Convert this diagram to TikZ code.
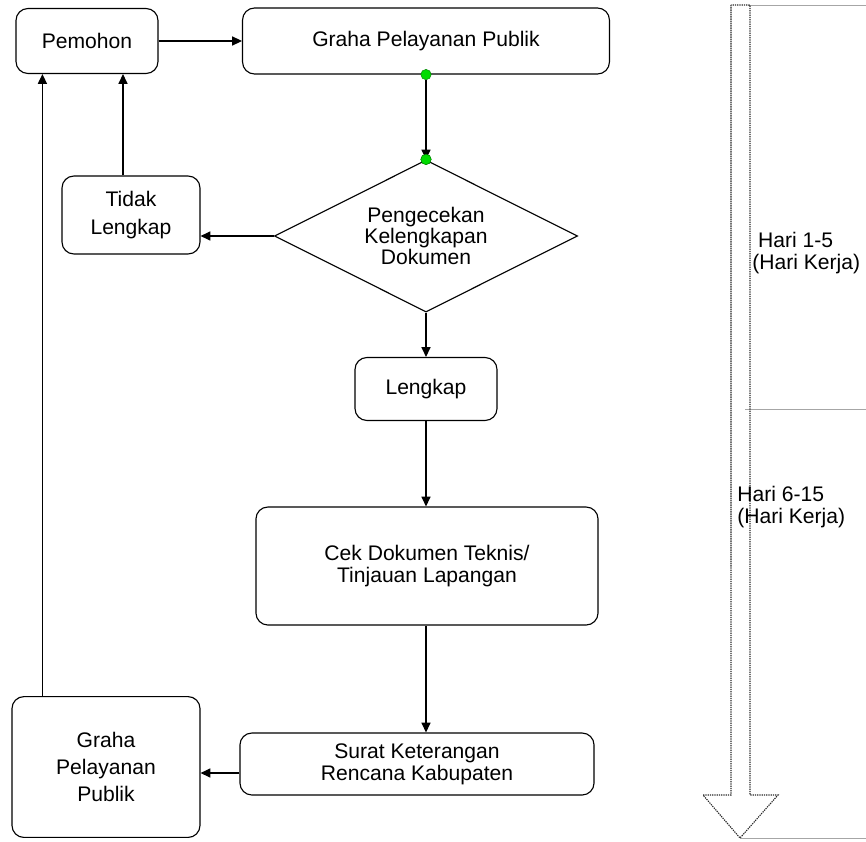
\documentclass[tikz,border=0pt]{standalone}
\usepackage{fontspec}
\setmainfont{Liberation Sans}
\usetikzlibrary{shapes.geometric,arrows.meta,calc}
\tikzset{box/.style={draw, line width=0.8pt, rounded corners=0.3cm, align=center, inner sep=0pt, font=\fontsize{15}{15}\selectfont}}
\tikzset{gdot/.style={circle, fill=green!80!black!70!green, draw=green!50!black, line width=0.3pt, inner sep=0pt, minimum size=0.26cm}}
\tikzset{arr/.style={-{Triangle[length=7pt,width=6.5pt]}, line width=0.8pt}}

\begin{document}
\begin{tikzpicture}[x=0.025cm, y=-0.025cm]
\useasboundingbox (0,0) rectangle (866,841);

	% left column
	\node[box, minimum width=3.55cm, minimum height=1.625cm] (pemohon) at (87,41) {Pemohon};
	\node[box, minimum width=3.45cm, minimum height=1.95cm, font=\fontsize{15}{20.5}\selectfont] (tidak) at (131,215) {Tidak\\Lengkap};
	\node[box, minimum width=4.7cm, minimum height=3.52cm, font=\fontsize{15}{19}\selectfont] (graha2) at (106,767) {Graha\\Pelayanan\\Publik};

	% middle column
	\node[box, minimum width=9.17cm, minimum height=1.65cm] (graha) at (426,41) {Graha Pelayanan Publik};
	\node[draw, diamond, aspect=2, line width=0.8pt, inner sep=0pt, align=center, minimum width=7.575cm, minimum height=3.8cm, font=\fontsize{15}{15}\selectfont] (cek) at (426,236) {Pengecekan\\Kelengkapan\\Dokumen};
	\node[box, minimum width=3.55cm, minimum height=1.575cm] (lengkap) at (426,389) {Lengkap};
	\node[box, minimum width=8.55cm, minimum height=2.95cm] (teknis) at (427,566) {Cek Dokumen Teknis/\\Tinjauan Lapangan};
	\node[box, minimum width=8.85cm, minimum height=1.55cm, font=\fontsize{15}{15.5}\selectfont] (surat) at (417,764) {Surat Keterangan\\Rencana Kabupaten};

	\node[gdot] (dot1) at (graha.south) {};
	\node[gdot] (dot2) at (cek.north) {};

	\draw[arr] (pemohon.east) -- (pemohon.east -| graha.west);
	\draw[arr] (dot1) -- (cek.north);
	\node[gdot] at (cek.north) {};
	\draw[arr] (cek.west) -- (cek.west -| tidak.east);
	\draw[arr] ($(tidak.north)+(-8,0)$) coordinate (tup) -- (tup |- pemohon.south);
	\draw[arr] (cek.south) -- (lengkap.north);
	\draw[arr] (lengkap.south) -- (teknis.north -| lengkap.south);
	\draw[arr] (teknis.south -| lengkap.south) -- (surat.north -| lengkap.south);
	\draw[arr] ($(surat.west)+(0,9)$) coordinate (sleft) -- (sleft -| graha2.east);
	\draw[arr] ($(graha2.north west)+(31,0)$) coordinate (gup) -- (gup |- pemohon.south);

	% time arrow
	\draw[gray!70, line width=0.5pt] (748,5) -- (866,5);
	\draw[gray!70, line width=0.5pt] (745,409) -- (866,409);
	\draw[gray!70, line width=0.5pt] (740,838) -- (866,838);
	\draw[black!85, dash pattern=on 0.9pt off 0.7pt, line width=0.8pt] (731,5) -- (731,795) -- (703,795) -- (740,838) -- (778,795) -- (750,795) -- (750,5) -- cycle;
	\node[anchor=west, align=left, font=\fontsize{15}{15}\selectfont, inner sep=0pt] (hari1) at (752,253) {\ Hari 1-5\\(Hari Kerja)};
	\node[anchor=west, align=left, font=\fontsize{15}{15}\selectfont, inner sep=0pt] (hari2) at (737,507) {Hari 6-15\\(Hari Kerja)};

\end{tikzpicture}
\end{document}
